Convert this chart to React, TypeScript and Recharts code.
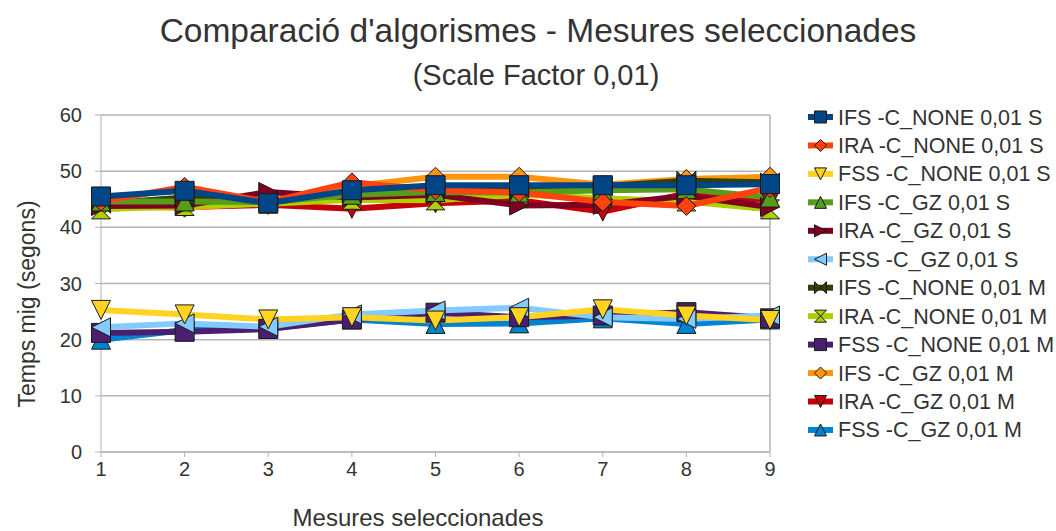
import React from "react";
import { LineChart, Line, XAxis, YAxis, CartesianGrid, ReferenceLine } from "recharts";

const FONT = '"Liberation Sans", Arial, sans-serif';
const TEXT = "#333333";
const AXIS = "#b3b3b3";

// measurement number on the x axis
const measures = [1, 2, 3, 4, 5, 6, 7, 8, 9];
const yTicks = [0, 10, 20, 30, 40, 50, 60];

// average time in seconds per measurement
const ifsNoneS = [45.5, 46.5, 44.3, 46.6, 47.5, 47.5, 47.5, 47.5, 47.7];
const iraNoneS = [44.6, 47.2, 44.5, 48.0, 46.6, 46.2, 44.5, 43.8, 47.0];
const fssNoneS = [25.3, 24.5, 23.6, 24.0, 23.4, 24.0, 25.4, 24.3, 23.5];
const ifsGzS = [44.6, 44.6, 44.5, 45.8, 46.3, 46.2, 46.6, 46.8, 45.3];
const iraGzS = [43.8, 43.9, 46.3, 45.3, 45.8, 43.9, 44.0, 45.6, 43.6];
const fssGzS = [22.2, 22.9, 22.3, 24.5, 25.2, 25.7, 24.0, 23.7, 24.3];
const ifsNoneM = [44.2, 45.3, 44.6, 46.1, 46.9, 46.9, 47.3, 48.3, 48.0];
const iraNoneM = [43.2, 43.8, 44.2, 44.9, 44.8, 45.8, 45.2, 44.6, 43.2];
const fssNoneM = [21.2, 21.4, 21.9, 23.6, 24.8, 24.0, 24.3, 24.9, 23.8];
const ifsGzM = [43.6, 43.5, 44.3, 47.3, 49.0, 49.0, 47.6, 48.6, 49.0];
const iraGzM = [43.9, 43.6, 44.0, 43.3, 44.3, 44.8, 42.8, 46.0, 44.8];
const fssGzM = [20.0, 21.7, 22.0, 23.6, 22.8, 22.9, 23.8, 22.8, 23.6];

type Symbol = "square" | "diamond" | "down" | "up" | "right" | "left" | "bowtie" | "sandglass";

const series: { key: string; name: string; color: string; symbol: Symbol; values: number[] }[] = [
  { key: "ifsNoneS", name: "IFS -C_NONE 0,01 S", color: "#004586", symbol: "square", values: ifsNoneS },
  { key: "iraNoneS", name: "IRA -C_NONE 0,01 S", color: "#ff420e", symbol: "diamond", values: iraNoneS },
  { key: "fssNoneS", name: "FSS -C_NONE 0,01 S", color: "#ffd320", symbol: "down", values: fssNoneS },
  { key: "ifsGzS", name: "IFS -C_GZ 0,01 S", color: "#579d1c", symbol: "up", values: ifsGzS },
  { key: "iraGzS", name: "IRA -C_GZ 0,01 S", color: "#7e0021", symbol: "right", values: iraGzS },
  { key: "fssGzS", name: "FSS -C_GZ 0,01 S", color: "#83caff", symbol: "left", values: fssGzS },
  { key: "ifsNoneM", name: "IFS -C_NONE 0,01 M", color: "#314004", symbol: "bowtie", values: ifsNoneM },
  { key: "iraNoneM", name: "IRA -C_NONE 0,01 M", color: "#aecf00", symbol: "sandglass", values: iraNoneM },
  { key: "fssNoneM", name: "FSS -C_NONE 0,01 M", color: "#4b1f6f", symbol: "square", values: fssNoneM },
  { key: "ifsGzM", name: "IFS -C_GZ 0,01 M", color: "#ff950e", symbol: "diamond", values: ifsGzM },
  { key: "iraGzM", name: "IRA -C_GZ 0,01 M", color: "#c5000b", symbol: "down", values: iraGzM },
  { key: "fssGzM", name: "FSS -C_GZ 0,01 M", color: "#0084d1", symbol: "up", values: fssGzM },
];

const data = measures.map((m, i) => {
  const row: Record<string, number> = { m };
  series.forEach((s) => (row[s.key] = s.values[i]));
  return row;
});

function markerPoints(symbol: Symbol, cx: number, cy: number, h: number): string {
  const p: number[][] = {
    square: [[-h, -h], [h, -h], [h, h], [-h, h]],
    diamond: [[0, -h], [h, 0], [0, h], [-h, 0]],
    down: [[-h, -h], [h, -h], [0, h]],
    up: [[0, -h], [h, h], [-h, h]],
    right: [[-h, -h], [h, 0], [-h, h]],
    left: [[h, -h], [h, h], [-h, 0]],
    bowtie: [[-h, -h], [h, h], [h, -h], [-h, h]],
    sandglass: [[-h, -h], [h, -h], [-h, h], [h, h]],
  }[symbol];
  return p.map(([x, y]) => `${cx + x},${cy + y}`).join(" ");
}

function Marker({ cx, cy, symbol, color, size }: { cx: number; cy: number; symbol: Symbol; color: string; size: number }) {
  return (
    <polygon
      points={markerPoints(symbol, cx, cy, size / 2)}
      fill={color}
      stroke="#1a1a1a"
      strokeWidth={1}
      strokeLinejoin="miter"
    />
  );
}

function LegendBox() {
  return (
    <svg width={256} height={360} style={{ position: "absolute", left: 800, top: 100 }}>
      {series.map((s, i) => {
        const y = 17 + i * 28.45;
        return (
          <g key={s.key}>
            <line x1={8} x2={33} y1={y} y2={y} stroke={s.color} strokeWidth={6} />
            <Marker cx={20.5} cy={y} symbol={s.symbol} color={s.color} size={12} />
            <text x={38} y={y + 7.5} fontSize={21.5} fontFamily={FONT} fill={TEXT}>
              {s.name}
            </text>
          </g>
        );
      })}
    </svg>
  );
}

export default function App() {
  // later series sit underneath, so draw them first
  const drawOrder = [...series].reverse();
  return (
    <div style={{ position: "absolute", left: 0, top: 0, width: 1056, height: 531, background: "#fff" }}>
      <LineChart width={1056} height={531} data={data} margin={{ top: 115, right: 286, bottom: 0, left: 0 }}>
        <CartesianGrid vertical={false} stroke={AXIS} strokeWidth={1.5} />
        <XAxis
          dataKey="m"
          type="number"
          domain={[1, 9]}
          ticks={measures}
          height={79}
          stroke={AXIS}
          tickSize={5}
          tickMargin={5}
          tick={{ fontSize: 20, fill: TEXT, fontFamily: FONT }}
        />
        <YAxis
          type="number"
          domain={[0, 60]}
          ticks={yTicks}
          width={101}
          stroke={AXIS}
          tickSize={6}
          tickMargin={13}
          tick={{ fontSize: 20, fill: TEXT, fontFamily: FONT }}
        />
        <ReferenceLine x={9} stroke={AXIS} strokeWidth={1.5} />
        {drawOrder.map((s) => (
          <Line
            key={s.key}
            dataKey={s.key}
            name={s.name}
            stroke={s.color}
            strokeWidth={6}
            isAnimationActive={false}
            dot={(p: any) => (
              <Marker key={`${s.key}-${p.index}`} cx={p.cx} cy={p.cy} symbol={s.symbol} color={s.color} size={19} />
            )}
            activeDot={false}
          />
        ))}
      </LineChart>
      <svg width={1056} height={531} style={{ position: "absolute", left: 0, top: 0, pointerEvents: "none" }}>
        <text x={538} y={42} textAnchor="middle" fontSize={33.5} fontFamily={FONT} fill={TEXT}>
          Comparació d'algorismes - Mesures seleccionades
        </text>
        <text x={536} y={85} textAnchor="middle" fontSize={29} fontFamily={FONT} fill={TEXT}>
          (Scale Factor 0,01)
        </text>
        <text x={418} y={526} textAnchor="middle" fontSize={24} fontFamily={FONT} fill={TEXT}>
          Mesures seleccionades
        </text>
        <text
          x={35}
          y={304}
          textAnchor="middle"
          fontSize={23}
          fontFamily={FONT}
          fill={TEXT}
          transform="rotate(-90 35 304)"
        >
          Temps mig (segons)
        </text>
      </svg>
      <LegendBox />
    </div>
  );
}
